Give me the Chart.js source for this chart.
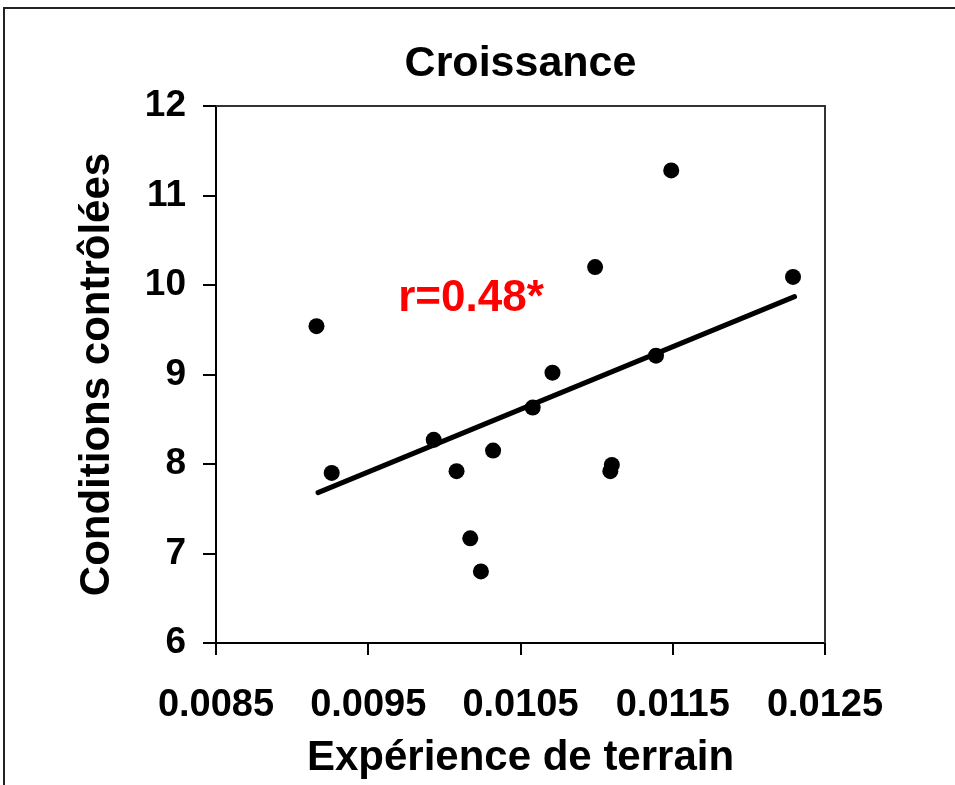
<!DOCTYPE html>
<html>
<head>
<meta charset="utf-8">
<script src="https://cdn.jsdelivr.net/npm/chart.js@4.4.1/dist/chart.umd.min.js"></script>
<style>
  html, body { margin: 0; padding: 0; background: #fff; }
  canvas { display: block; }
</style>
</head>
<body>
<canvas id="growthChart" width="955" height="785"></canvas>
<script>
// Data
const fieldValues = [0.00916, 0.00926, 0.00993, 0.01008, 0.01017, 0.01024, 0.01032, 0.01058, 0.01071, 0.01099, 0.01110, 0.01109, 0.01139, 0.01149, 0.01229];
const controlledValues = [9.54, 7.90, 8.27, 7.92, 7.17, 6.80, 8.15, 8.63, 9.02, 10.20, 7.99, 7.92, 9.21, 11.28, 10.09];

// regression line end points
const trendX = [0.00917, 0.01230];
const trendY = [7.68, 9.87];

const xTickValues = [0.0085, 0.0095, 0.0105, 0.0115, 0.0125];
const xTickLabels = ["0.0085", "0.0095", "0.0105", "0.0115", "0.0125"];
const yTickValues = [6, 7, 8, 9, 10, 11, 12];
const yTickLabels = ["6", "7", "8", "9", "10", "11", "12"];

const chartTitle = "Croissance";
const corrLabel = "r=0.48*";
const corrPos = { x: 0.010175, y: 9.84 };

const FONT = "'Liberation Sans', Arial, sans-serif";

// outer frame, plot box, title over the plot area, r label
const framePlugin = {
  id: "frame",
  beforeDraw(chart) {
    const c = chart.ctx;
    c.save();
    c.fillStyle = "#fff";
    c.fillRect(0, 0, chart.width, chart.height);
    c.strokeStyle = "#222";
    c.lineWidth = 2;
    c.beginPath();
    c.moveTo(4, chart.height);
    c.lineTo(4, 8);
    c.lineTo(chart.width, 8);
    c.stroke();
    c.restore();
  },
  afterDraw(chart) {
    const c = chart.ctx;
    const a = chart.chartArea;
    c.save();
    c.strokeStyle = "#333";
    c.lineWidth = 2;
    c.beginPath();
    c.moveTo(a.left, a.top);
    c.lineTo(a.right, a.top);
    c.lineTo(a.right, a.bottom);
    c.stroke();

    c.fillStyle = "#000";
    c.font = "bold 43px " + FONT;
    c.textAlign = "center";
    c.textBaseline = "middle";
    c.fillText(chartTitle, (a.left + a.right) / 2, 64);

    const px = chart.scales.x.getPixelForValue(corrPos.x);
    const py = chart.scales.y.getPixelForValue(corrPos.y);
    c.fillStyle = "#ff0000";
    c.font = "bold 44px " + FONT;
    c.fillText(corrLabel, px, py);
    c.restore();
  }
};

const points = fieldValues.map((v, i) => ({ x: v, y: controlledValues[i] }));
const trend = trendX.map((v, i) => ({ x: v, y: trendY[i] }));

new Chart(document.getElementById("growthChart"), {
  type: "scatter",
  data: {
    datasets: [
      {
        data: points,
        pointRadius: 8,
        pointHoverRadius: 8,
        pointBackgroundColor: "#000",
        pointBorderWidth: 0
      },
      {
        type: "line",
        data: trend,
        showLine: true,
        borderColor: "#000",
        borderWidth: 5,
        borderCapStyle: "round",
        pointRadius: 0,
        fill: false
      }
    ]
  },
  options: {
    responsive: false,
    animation: false,
    devicePixelRatio: 1,
    layout: { padding: { left: 70, right: 130, top: 106, bottom: 0 } },
    plugins: {
      legend: { display: false },
      tooltip: { enabled: false },
      title: { display: false }
    },
    scales: {
      x: {
        type: "linear",
        min: 0.0085,
        max: 0.0125,
        afterBuildTicks: s => { s.ticks = xTickValues.map(v => ({ value: v })); },
        afterFit: s => { s.height = 142; },
        ticks: {
          color: "#000",
          font: { family: FONT, size: 38, weight: "bold" },
          padding: 28,
          maxRotation: 0,
          callback: (v, i) => xTickLabels[i]
        },
        grid: { drawOnChartArea: false, drawTicks: true, tickLength: 12, color: "#000", lineWidth: 2 },
        border: { display: true, color: "#000", width: 2 },
        title: {
          display: true,
          text: "Expérience de terrain",
          color: "#000",
          font: { family: FONT, size: 42, weight: "bold" },
          padding: { top: 0, bottom: 1 }
        }
      },
      y: {
        type: "linear",
        min: 6,
        max: 12,
        afterBuildTicks: s => { s.ticks = yTickValues.map(v => ({ value: v })); },
        afterFit: s => { s.width = 146; },
        ticks: {
          color: "#000",
          font: { family: FONT, size: 37, weight: "bold" },
          padding: 17,
          callback: (v, i) => yTickLabels[i]
        },
        grid: { drawOnChartArea: false, drawTicks: true, tickLength: 13, color: "#000", lineWidth: 2 },
        border: { display: true, color: "#000", width: 2 },
        title: {
          display: true,
          text: "Conditions contrôlées",
          color: "#000",
          font: { family: FONT, size: 42, weight: "bold" },
          padding: { top: 2, bottom: 0 }
        }
      }
    }
  },
  plugins: [framePlugin]
});
</script>
</body>
</html>
